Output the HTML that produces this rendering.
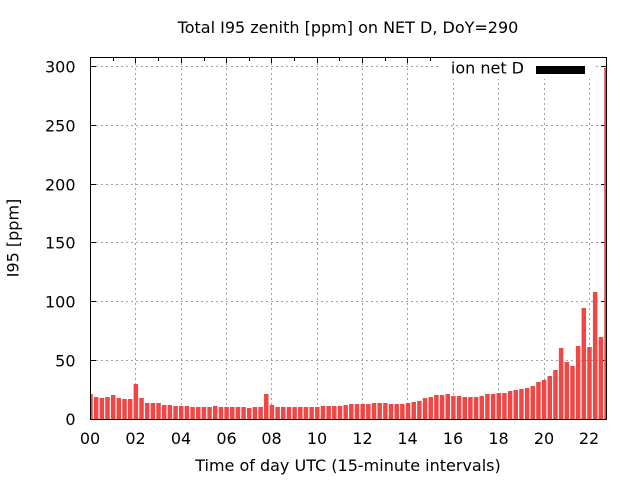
<!DOCTYPE html>
<html>
<head>
<meta charset="utf-8">
<style>
  html, body { margin: 0; padding: 0; background: #ffffff; }
  svg { display: block; }
  text { font-family: "DejaVu Sans", "Liberation Sans", sans-serif; font-size: 16px; fill: #000; }
</style>
</head>
<body>
<svg width="640" height="480" viewBox="0 0 640 480" xmlns="http://www.w3.org/2000/svg">
  <rect x="0" y="0" width="640" height="480" fill="#ffffff"/>
  <defs>
    <clipPath id="plot">
      <rect x="90.5" y="57.5" width="516" height="362"/>
    </clipPath>
  </defs>

  <g stroke="#a0a0a0" stroke-width="1" stroke-dasharray="2,3" fill="none">
    <line x1="91" y1="66.5" x2="606" y2="66.5"/>
    <line x1="91" y1="125.5" x2="606" y2="125.5"/>
    <line x1="91" y1="184.5" x2="606" y2="184.5"/>
    <line x1="91" y1="242.5" x2="606" y2="242.5"/>
    <line x1="91" y1="301.5" x2="606" y2="301.5"/>
    <line x1="91" y1="360.5" x2="606" y2="360.5"/>
    <line x1="135.5" y1="58" x2="135.5" y2="419"/>
    <line x1="181.5" y1="58" x2="181.5" y2="419"/>
    <line x1="226.5" y1="58" x2="226.5" y2="419"/>
    <line x1="271.5" y1="58" x2="271.5" y2="419"/>
    <line x1="317.5" y1="58" x2="317.5" y2="419"/>
    <line x1="362.5" y1="58" x2="362.5" y2="419"/>
    <line x1="407.5" y1="58" x2="407.5" y2="419"/>
    <line x1="453.5" y1="58" x2="453.5" y2="419"/>
    <line x1="498.5" y1="58" x2="498.5" y2="419"/>
    <line x1="544.5" y1="58" x2="544.5" y2="419"/>
    <line x1="589.5" y1="58" x2="589.5" y2="419"/>
  </g>

  <g stroke="#000" stroke-width="1">
    <line x1="91" y1="66.5" x2="96" y2="66.5"/>
    <line x1="91" y1="125.5" x2="96" y2="125.5"/>
    <line x1="91" y1="184.5" x2="96" y2="184.5"/>
    <line x1="91" y1="242.5" x2="96" y2="242.5"/>
    <line x1="91" y1="301.5" x2="96" y2="301.5"/>
    <line x1="91" y1="360.5" x2="96" y2="360.5"/>
    <line x1="601" y1="66.5" x2="606" y2="66.5"/>
    <line x1="601" y1="125.5" x2="606" y2="125.5"/>
    <line x1="601" y1="184.5" x2="606" y2="184.5"/>
    <line x1="601" y1="242.5" x2="606" y2="242.5"/>
    <line x1="601" y1="301.5" x2="606" y2="301.5"/>
    <line x1="601" y1="360.5" x2="606" y2="360.5"/>
    <line x1="135.5" y1="58" x2="135.5" y2="63"/>
    <line x1="181.5" y1="58" x2="181.5" y2="63"/>
    <line x1="226.5" y1="58" x2="226.5" y2="63"/>
    <line x1="271.5" y1="58" x2="271.5" y2="63"/>
    <line x1="317.5" y1="58" x2="317.5" y2="63"/>
    <line x1="362.5" y1="58" x2="362.5" y2="63"/>
    <line x1="407.5" y1="58" x2="407.5" y2="63"/>
    <line x1="453.5" y1="58" x2="453.5" y2="63"/>
    <line x1="498.5" y1="58" x2="498.5" y2="63"/>
    <line x1="544.5" y1="58" x2="544.5" y2="63"/>
    <line x1="589.5" y1="58" x2="589.5" y2="63"/>
    <line x1="113.5" y1="58" x2="113.5" y2="61"/>
    <line x1="158.5" y1="58" x2="158.5" y2="61"/>
    <line x1="204.5" y1="58" x2="204.5" y2="61"/>
    <line x1="249.5" y1="58" x2="249.5" y2="61"/>
    <line x1="294.5" y1="58" x2="294.5" y2="61"/>
    <line x1="339.5" y1="58" x2="339.5" y2="61"/>
    <line x1="385.5" y1="58" x2="385.5" y2="61"/>
    <line x1="430.5" y1="58" x2="430.5" y2="61"/>
    <line x1="476.5" y1="58" x2="476.5" y2="61"/>
    <line x1="521.5" y1="58" x2="521.5" y2="61"/>
    <line x1="566.5" y1="58" x2="566.5" y2="61"/>
  </g>

  <g fill="#f14646" clip-path="url(#plot)">
    <rect x="88.25" y="394" width="4.5" height="25"/>
    <rect x="93.92" y="397" width="4.5" height="22"/>
    <rect x="99.59" y="398" width="4.5" height="21"/>
    <rect x="105.26" y="397" width="4.5" height="22"/>
    <rect x="110.93" y="395" width="4.5" height="24"/>
    <rect x="116.60" y="398" width="4.5" height="21"/>
    <rect x="122.27" y="399" width="4.5" height="20"/>
    <rect x="127.94" y="399" width="4.5" height="20"/>
    <rect x="133.61" y="384" width="4.5" height="35"/>
    <rect x="139.28" y="398" width="4.5" height="21"/>
    <rect x="144.95" y="403" width="4.5" height="16"/>
    <rect x="150.62" y="403" width="4.5" height="16"/>
    <rect x="156.29" y="403" width="4.5" height="16"/>
    <rect x="161.96" y="405" width="4.5" height="14"/>
    <rect x="167.63" y="405" width="4.5" height="14"/>
    <rect x="173.30" y="406" width="4.5" height="13"/>
    <rect x="178.97" y="406" width="4.5" height="13"/>
    <rect x="184.65" y="406" width="4.5" height="13"/>
    <rect x="190.32" y="407" width="4.5" height="12"/>
    <rect x="195.99" y="407" width="4.5" height="12"/>
    <rect x="201.66" y="407" width="4.5" height="12"/>
    <rect x="207.33" y="407" width="4.5" height="12"/>
    <rect x="213.00" y="406" width="4.5" height="13"/>
    <rect x="218.67" y="407" width="4.5" height="12"/>
    <rect x="224.34" y="407" width="4.5" height="12"/>
    <rect x="230.01" y="407" width="4.5" height="12"/>
    <rect x="235.68" y="407" width="4.5" height="12"/>
    <rect x="241.35" y="407" width="4.5" height="12"/>
    <rect x="247.02" y="408" width="4.5" height="11"/>
    <rect x="252.69" y="407" width="4.5" height="12"/>
    <rect x="258.36" y="407" width="4.5" height="12"/>
    <rect x="264.03" y="394" width="4.5" height="25"/>
    <rect x="269.70" y="405" width="4.5" height="14"/>
    <rect x="275.37" y="407" width="4.5" height="12"/>
    <rect x="281.04" y="407" width="4.5" height="12"/>
    <rect x="286.71" y="407" width="4.5" height="12"/>
    <rect x="292.38" y="407" width="4.5" height="12"/>
    <rect x="298.05" y="407" width="4.5" height="12"/>
    <rect x="303.72" y="407" width="4.5" height="12"/>
    <rect x="309.39" y="407" width="4.5" height="12"/>
    <rect x="315.06" y="407" width="4.5" height="12"/>
    <rect x="320.73" y="406" width="4.5" height="13"/>
    <rect x="326.40" y="406" width="4.5" height="13"/>
    <rect x="332.07" y="406" width="4.5" height="13"/>
    <rect x="337.74" y="406" width="4.5" height="13"/>
    <rect x="343.41" y="405" width="4.5" height="14"/>
    <rect x="349.08" y="404" width="4.5" height="15"/>
    <rect x="354.75" y="404" width="4.5" height="15"/>
    <rect x="360.42" y="404" width="4.5" height="15"/>
    <rect x="366.09" y="404" width="4.5" height="15"/>
    <rect x="371.77" y="403" width="4.5" height="16"/>
    <rect x="377.44" y="403" width="4.5" height="16"/>
    <rect x="383.11" y="403" width="4.5" height="16"/>
    <rect x="388.78" y="404" width="4.5" height="15"/>
    <rect x="394.45" y="404" width="4.5" height="15"/>
    <rect x="400.12" y="404" width="4.5" height="15"/>
    <rect x="405.79" y="403" width="4.5" height="16"/>
    <rect x="411.46" y="402" width="4.5" height="17"/>
    <rect x="417.13" y="401" width="4.5" height="18"/>
    <rect x="422.80" y="398" width="4.5" height="21"/>
    <rect x="428.47" y="397" width="4.5" height="22"/>
    <rect x="434.14" y="395" width="4.5" height="24"/>
    <rect x="439.81" y="395" width="4.5" height="24"/>
    <rect x="445.48" y="394" width="4.5" height="25"/>
    <rect x="451.15" y="396" width="4.5" height="23"/>
    <rect x="456.82" y="396" width="4.5" height="23"/>
    <rect x="462.49" y="397" width="4.5" height="22"/>
    <rect x="468.16" y="397" width="4.5" height="22"/>
    <rect x="473.83" y="397" width="4.5" height="22"/>
    <rect x="479.50" y="396" width="4.5" height="23"/>
    <rect x="485.17" y="394" width="4.5" height="25"/>
    <rect x="490.84" y="394" width="4.5" height="25"/>
    <rect x="496.51" y="393" width="4.5" height="26"/>
    <rect x="502.18" y="393" width="4.5" height="26"/>
    <rect x="507.85" y="391" width="4.5" height="28"/>
    <rect x="513.52" y="390" width="4.5" height="29"/>
    <rect x="519.19" y="389" width="4.5" height="30"/>
    <rect x="524.86" y="388" width="4.5" height="31"/>
    <rect x="530.53" y="386" width="4.5" height="33"/>
    <rect x="536.20" y="382" width="4.5" height="37"/>
    <rect x="541.87" y="380" width="4.5" height="39"/>
    <rect x="547.54" y="376" width="4.5" height="43"/>
    <rect x="553.21" y="370" width="4.5" height="49"/>
    <rect x="558.88" y="348" width="4.5" height="71"/>
    <rect x="564.56" y="362" width="4.5" height="57"/>
    <rect x="570.23" y="366" width="4.5" height="53"/>
    <rect x="575.90" y="346" width="4.5" height="73"/>
    <rect x="581.57" y="308" width="4.5" height="111"/>
    <rect x="587.24" y="347" width="4.5" height="72"/>
    <rect x="592.91" y="292" width="4.5" height="127"/>
    <rect x="598.58" y="337" width="4.5" height="82"/>
    <rect x="604.25" y="68" width="4.5" height="351"/>
  </g>

  <rect x="438" y="58" width="158" height="21" fill="#ffffff"/>
  <text x="524" y="73.5" text-anchor="end">ion net D</text>
  <rect x="536" y="66" width="49" height="8" fill="#000"/>

  <rect x="90.5" y="57.5" width="516" height="362" fill="none" stroke="#000" stroke-width="1"/>

  <g text-anchor="end">
    <text x="75.5" y="425">0</text>
    <text x="75.5" y="366.5">50</text>
    <text x="75.5" y="307.5">100</text>
    <text x="75.5" y="248.5">150</text>
    <text x="75.5" y="190.5">200</text>
    <text x="75.5" y="131.5">250</text>
    <text x="75.5" y="72.5">300</text>
  </g>

  <g text-anchor="middle">
    <text x="90" y="444">00</text>
    <text x="135.5" y="444">02</text>
    <text x="181" y="444">04</text>
    <text x="226.5" y="444">06</text>
    <text x="271.5" y="444">08</text>
    <text x="317" y="444">10</text>
    <text x="362.5" y="444">12</text>
    <text x="407.5" y="444">14</text>
    <text x="453" y="444">16</text>
    <text x="498.5" y="444">18</text>
    <text x="544" y="444">20</text>
    <text x="589" y="444">22</text>
  </g>

  <text x="348" y="33" text-anchor="middle">Total I95 zenith [ppm] on NET D, DoY=290</text>
  <text x="348" y="471" text-anchor="middle">Time of day UTC (15-minute intervals)</text>
  <text transform="translate(18.5,238) rotate(-90)" text-anchor="middle">I95 [ppm]</text>
</svg>
</body>
</html>
